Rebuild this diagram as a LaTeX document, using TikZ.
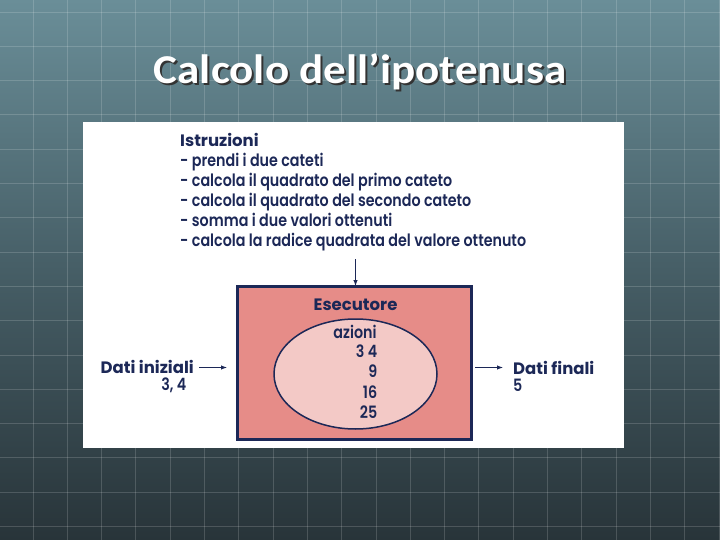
\documentclass[tikz,border=0pt]{standalone}
\usepackage{fontspec}
\usetikzlibrary{arrows.meta,shapes.geometric}
\newfontfamily\titlefont{Carlito}[FakeStretch=1.1]
\newfontfamily\diafont{Poppins}[UprightFont={* SemiBold},FakeStretch=0.84]
\newfontfamily\diabold{Poppins Bold}
\definecolor{navy}{RGB}{28,40,87}
\definecolor{boxpink}{RGB}{230,140,136}
\definecolor{ellpink}{RGB}{243,201,198}
\definecolor{bgtop}{RGB}{106,142,152}
\definecolor{bgmid}{RGB}{70,94,102}
\definecolor{bgbot}{RGB}{40,52,57}
\newcommand{\shadowtext}[1]{\makebox[0pt][l]{\hspace{2pt}\raisebox{-2pt}{\textcolor{black!80}{#1}}}#1}
\tikzset{
  instr/.style={anchor=base west,inner sep=0pt,text=navy,font=\diafont\fontsize{17}{20}\selectfont},
  hdr/.style={inner sep=0pt,text=navy,font=\diabold\fontsize{16.5}{20}\selectfont},
  num/.style={anchor=base east,inner sep=0pt,text=navy,font=\diafont\fontsize{17}{20}\selectfont},
  arr/.style={draw=navy,line width=1pt,-{Latex[length=6pt,width=4.5pt]}},
  titletxt/.style={anchor=base,inner sep=0pt,text=white,font=\titlefont\bfseries\fontsize{41}{48}\selectfont},
}
\begin{document}
\begin{tikzpicture}[x=1pt,y=-1pt]
\useasboundingbox (0,0) rectangle (720,540);
% background
\shade[top color=bgtop,bottom color=bgbot,middle color=bgmid] (0,0) rectangle (720,540);
\foreach \i in {0,...,21} {
  \draw[white,opacity=0.16,line width=0.9pt] ({-1.3+34.3*\i},0) -- ({-1.3+34.3*\i},540);
}
\foreach \j in {0,...,15} {
  \draw[white,opacity=0.16,line width=0.9pt] (0,{12+34.3*\j}) -- (720,{12+34.3*\j});
}
% title
\node (title) [titletxt] at (360,84) {\shadowtext{Calcolo dell’ipotenusa}};
% panel
\fill[white] (83,122) rectangle (624,448);
% instructions
\node (i0) [hdr,anchor=base west] at (180,147) {Istruzioni};
\node (i1) [instr] at (180,166.8) {- prendi i due cateti};
\node (i2) [instr] at (180,186.6) {- calcola il quadrato del primo cateto};
\node (i3) [instr] at (180,206.4) {- calcola il quadrato del secondo cateto};
\node (i4) [instr] at (180,226.2) {- somma i due valori ottenuti};
\node (i5) [instr] at (180,246) {- calcola la radice quadrata del valore ottenuto};
% executor box
\node (box) [draw=navy,line width=3pt,fill=boxpink,minimum width=234pt,minimum height=153pt,inner sep=0pt] at (354.5,363) {};
\node (ell) [ellipse,draw=navy,line width=1.5pt,fill=ellpink,minimum width=163pt,minimum height=110pt,inner sep=0pt] at (355.5,374) {};
\node (ese) [hdr,anchor=base] at (355.5,310) {Esecutore};
\coordinate (topin) at (355.5,259);
\draw[arr] (topin) -- ([yshift=-1pt]box.north -| topin);
% inside ellipse
\node (az) [instr,anchor=base] at (355,338) {azioni};
\node (n1) [num] at (377.5,357.5) {3 4};
\node (n2) [num] at (377.5,377) {9};
\node (n3) [num] at (377.5,398.5) {16};
\node (n4) [num] at (377.5,418) {25};
% inputs / outputs
\node (din) [hdr,anchor=base east] at (194,373.5) {Dati iniziali};
\node (v34) [num] at (186.5,390) {3, 4};
\draw[arr] ([xshift=5pt]din.east |- 0,367.5) coordinate (a1) -- ([xshift=-9pt]box.west |- a1);
\node (dfi) [hdr,anchor=base west] at (513,374) {Dati finali};
\node (v5) [instr] at (513,391) {5};
\draw[arr] ([xshift=2pt]box.east |- 0,367.5) coordinate (a2) -- ([xshift=-10pt]dfi.west |- a2);
\end{tikzpicture}
\end{document}
